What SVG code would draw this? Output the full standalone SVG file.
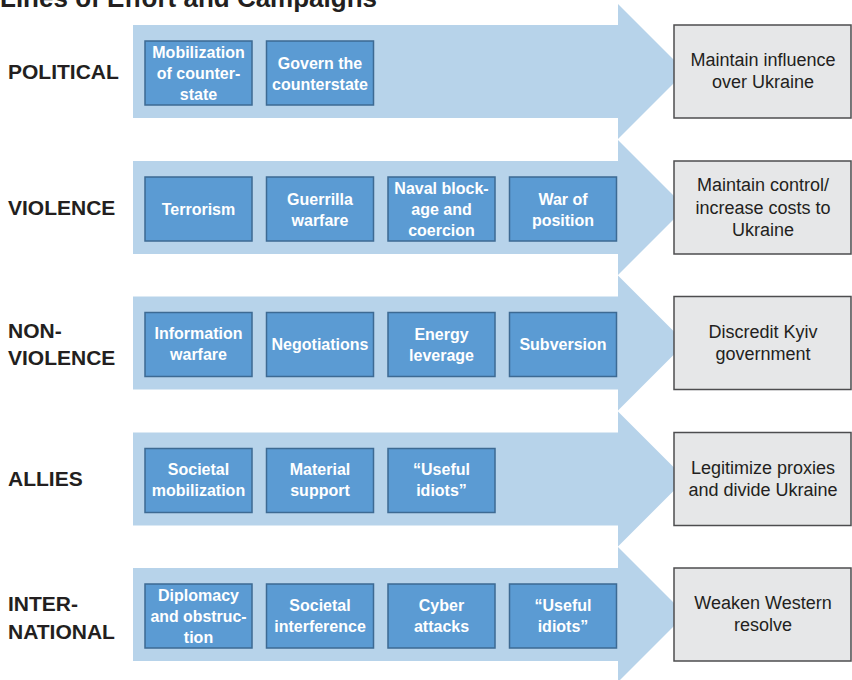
<svg xmlns="http://www.w3.org/2000/svg" width="852" height="680" viewBox="0 0 852 680">
<style>
.arrow{fill:#b7d3ea}
.box{fill:#5b9bd3;stroke:#3d6a93;stroke-width:1.5}
.bt{font-family:"Liberation Sans",Arial,sans-serif;font-weight:bold;font-size:16px;fill:#ffffff;text-anchor:middle}
.goal{fill:#e6e7e8;stroke:#4d4d4f;stroke-width:1.5}
.gt{font-family:"Liberation Sans",Arial,sans-serif;font-size:18px;fill:#231f20;text-anchor:middle}
.lbl{font-family:"Liberation Sans",Arial,sans-serif;font-weight:bold;font-size:21px;fill:#231f20}
.title{font-family:"Liberation Sans",Arial,sans-serif;font-weight:bold;font-size:26px;fill:#231f20}
</style>
<rect width="852" height="680" fill="#ffffff"/>
<text class="title" x="0" y="7">Lines of Effort and Campaigns</text>

<g id="arrows">
<path class="arrow" d="M133,25 H618 V4 L685.5,71.5 L618,139 V118 H133 Z"/>
<path class="arrow" d="M133,161 H618 V140 L685.5,207.5 L618,275 V254 H133 Z"/>
<path class="arrow" d="M133,296.5 H618 V275.5 L685.5,343 L618,410.5 V389.5 H133 Z"/>
<path class="arrow" d="M133,432.5 H618 V411.5 L685.5,479 L618,546.5 V525.5 H133 Z"/>
<path class="arrow" d="M133,568 H618 V547 L685.5,614.5 L618,682 V661 H133 Z"/>
</g>

<g id="row-political">
<text class="lbl" x="8" y="78.5">POLITICAL</text>
<g id="pol-1"><rect class="box" x="145" y="41" width="107" height="64"/><text class="bt" x="198.5" y="58">Mobilization</text><text class="bt" x="198.5" y="79">of counter-</text><text class="bt" x="198.5" y="100">state</text></g>
<g id="pol-2"><rect class="box" x="266.5" y="41" width="107" height="64"/><text class="bt" x="320" y="68.5">Govern the</text><text class="bt" x="320" y="89.5">counterstate</text></g>
<g id="goal-political"><rect class="goal" x="674" y="25" width="177" height="93"/><text class="gt" x="763" y="66">Maintain influence</text><text class="gt" x="763" y="88">over Ukraine</text></g>
</g>

<g id="row-violence">
<text class="lbl" x="8" y="214.5">VIOLENCE</text>
<g id="vio-1"><rect class="box" x="145" y="177" width="107" height="64"/><text class="bt" x="198.5" y="215">Terrorism</text></g>
<g id="vio-2"><rect class="box" x="266.5" y="177" width="107" height="64"/><text class="bt" x="320" y="204.5">Guerrilla</text><text class="bt" x="320" y="225.5">warfare</text></g>
<g id="vio-3"><rect class="box" x="388" y="177" width="107" height="64"/><text class="bt" x="441.5" y="194">Naval block-</text><text class="bt" x="441.5" y="215">age and</text><text class="bt" x="441.5" y="236">coercion</text></g>
<g id="vio-4"><rect class="box" x="509.5" y="177" width="107" height="64"/><text class="bt" x="563" y="204.5">War of</text><text class="bt" x="563" y="225.5">position</text></g>
<g id="goal-violence"><rect class="goal" x="674" y="161" width="177" height="93"/><text class="gt" x="763" y="191">Maintain control/</text><text class="gt" x="763" y="213.5">increase costs to</text><text class="gt" x="763" y="236">Ukraine</text></g>
</g>

<g id="row-nonviolence">
<text class="lbl" x="8" y="338">NON-</text>
<text class="lbl" x="8" y="365">VIOLENCE</text>
<g id="non-1"><rect class="box" x="145" y="312.5" width="107" height="64"/><text class="bt" x="198.5" y="338.5">Information</text><text class="bt" x="198.5" y="359.5">warfare</text></g>
<g id="non-2"><rect class="box" x="266.5" y="312.5" width="107" height="64"/><text class="bt" x="320" y="350">Negotiations</text></g>
<g id="non-3"><rect class="box" x="388" y="312.5" width="107" height="64"/><text class="bt" x="441.5" y="340">Energy</text><text class="bt" x="441.5" y="361">leverage</text></g>
<g id="non-4"><rect class="box" x="509.5" y="312.5" width="107" height="64"/><text class="bt" x="563" y="350">Subversion</text></g>
<g id="goal-nonviolence"><rect class="goal" x="674" y="296.5" width="177" height="93"/><text class="gt" x="763" y="337.5">Discredit Kyiv</text><text class="gt" x="763" y="359.5">government</text></g>
</g>

<g id="row-allies">
<text class="lbl" x="8" y="486">ALLIES</text>
<g id="all-1"><rect class="box" x="145" y="448.5" width="107" height="64"/><text class="bt" x="198.5" y="475">Societal</text><text class="bt" x="198.5" y="496">mobilization</text></g>
<g id="all-2"><rect class="box" x="266.5" y="448.5" width="107" height="64"/><text class="bt" x="320" y="475">Material</text><text class="bt" x="320" y="496">support</text></g>
<g id="all-3"><rect class="box" x="388" y="448.5" width="107" height="64"/><text class="bt" x="441.5" y="475">“Useful</text><text class="bt" x="441.5" y="496">idiots”</text></g>
<g id="goal-allies"><rect class="goal" x="674" y="432.5" width="177" height="93"/><text class="gt" x="763" y="473.5">Legitimize proxies</text><text class="gt" x="763" y="495.5">and divide Ukraine</text></g>
</g>

<g id="row-international">
<text class="lbl" x="8" y="611">INTER-</text>
<text class="lbl" x="8" y="639">NATIONAL</text>
<g id="int-1"><rect class="box" x="145" y="584" width="107" height="64"/><text class="bt" x="198.5" y="600.5">Diplomacy</text><text class="bt" x="198.5" y="621.5" textLength="96" lengthAdjust="spacingAndGlyphs">and obstruc-</text><text class="bt" x="198.5" y="642.5">tion</text></g>
<g id="int-2"><rect class="box" x="266.5" y="584" width="107" height="64"/><text class="bt" x="320" y="610.5">Societal</text><text class="bt" x="320" y="631.5">interference</text></g>
<g id="int-3"><rect class="box" x="388" y="584" width="107" height="64"/><text class="bt" x="441.5" y="610.5">Cyber</text><text class="bt" x="441.5" y="631.5">attacks</text></g>
<g id="int-4"><rect class="box" x="509.5" y="584" width="107" height="64"/><text class="bt" x="563" y="610.5">“Useful</text><text class="bt" x="563" y="631.5">idiots”</text></g>
<g id="goal-international"><rect class="goal" x="674" y="568" width="177" height="93"/><text class="gt" x="763" y="609">Weaken Western</text><text class="gt" x="763" y="631">resolve</text></g>
</g>
</svg>
